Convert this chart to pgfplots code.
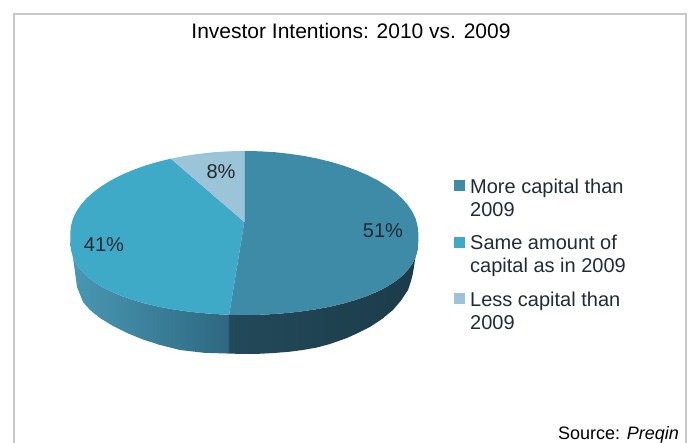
\documentclass[border=0pt]{standalone}
\usepackage{fontspec}
\setmainfont{Liberation Sans}
\usepackage{pgfplots}
\pgfplotsset{compat=1.18}
\definecolor{more}{HTML}{3E8BA8}
\definecolor{same}{HTML}{3FA9C8}
\definecolor{less}{HTML}{9CC4D8}
\definecolor{ink}{HTML}{222A33}
\definecolor{framegray}{HTML}{C8C8C8}
\definecolor{wallA}{HTML}{4A98B4}
\definecolor{wallB}{HTML}{2E6880}
\definecolor{wallC}{HTML}{234A5A}
\definecolor{wallD}{HTML}{1B3B4A}

\begin{document}
\begin{tikzpicture}
\useasboundingbox (0,0) rectangle (689pt,443pt);
\begin{axis}[
  at={(0,0)},anchor=south west,
  scale only axis,width=689pt,height=443pt,
  xmin=0,xmax=689,ymin=0,ymax=443,y dir=reverse,
  hide axis,clip=false,
  font=\fontsize{20}{23}\selectfont,
  legend image code/.code={\fill[#1] (0pt,-4.5pt) rectangle (11pt,6.5pt);\path (14pt,0pt);},
  legend cell align=left,
  legend style={
    at={(axis cs:454,176.5)},anchor=north west,draw=none,fill=none,
    text=ink,row sep=36.5pt,inner sep=0pt,
    /tikz/every even column/.style={column sep=0pt},
    font=\fontsize{20}{23}\selectfont
  }
]
% side wall, 41% slice
\addplot[forget plot,draw=none,left color=wallA,right color=wallB] coordinates {
(229.1,314.8)(214.1,314.0)(199.3,312.8)(184.8,311.1)(170.8,309.0)(157.3,306.4)(144.5,303.3)(132.5,299.8)
(121.3,295.9)(111.0,291.5)(101.8,286.8)(93.6,281.6)(86.6,276.1)(80.8,270.1)(76.2,263.8)(72.9,256.9)(71.0,249.4)(70.3,240)
(71,245)(73,258)(75,272)(77,287)(83,302)(90,310)(100,318)(113,326)(127,333)(143,339.5)(160,345)(180,350)(204,352.8)(229.4,353.6)
};
% side wall, 51% slice
\addplot[forget plot,draw=none,left color=wallC,middle color=wallD,right color=wallD] coordinates {
(418.3,240)(417.6,249.4)(415.7,256.9)(412.4,263.8)(407.8,270.1)(402.0,276.1)(395.0,281.6)(386.8,286.8)(377.6,291.5)
(367.3,295.9)(356.1,299.8)(344.1,303.3)(331.3,306.4)(317.8,309.0)(303.8,311.1)(289.3,312.8)(274.5,314.0)(259.5,314.8)(244.3,315.0)(229.1,314.8)
(229.4,353.6)(244.3,354)(259,353.8)(274,353)(289,351.8)(303,350)(317,347.5)(330,344)(347,338)(358,333)(370,327)(382,319)(393,310)(401,300.5)
(408,290)(411,281)(413,273)(415,260)(417,247)
};
% top faces
\addplot[draw=none,fill=more] coordinates {
(244.3,222)(244.3,151.0)(259.5,151.3)(274.5,152.2)(289.3,153.8)(303.8,155.9)(317.8,158.7)(331.3,162.0)(344.1,165.8)(356.1,170.2)
(367.3,175.0)(377.6,180.3)(386.8,186.0)(395.0,192.0)(402.0,198.3)(407.8,205.0)(412.4,211.8)(415.7,218.8)(417.6,225.9)(418.3,233.0)
(418.3,240)(417.6,249.4)(415.7,256.9)(412.4,263.8)(407.8,270.1)(402.0,276.1)(395.0,281.6)(386.8,286.8)(377.6,291.5)(367.3,295.9)(356.1,299.8)
(344.1,303.3)(331.3,306.4)(317.8,309.0)(303.8,311.1)(289.3,312.8)(274.5,314.0)(259.5,314.8)(244.3,315.0)(229.1,314.8)
};
\addlegendentry{\parbox[t]{170pt}{More capital than\\2009}}
\addplot[draw=none,fill=same] coordinates {
(244.3,222)(229.1,314.8)(214.1,314.0)(199.3,312.8)(184.8,311.1)(170.8,309.0)(157.3,306.4)(144.5,303.3)(132.5,299.8)
(121.3,295.9)(111.0,291.5)(101.8,286.8)(93.6,281.6)(86.6,276.1)(80.8,270.1)(76.2,263.8)(72.9,256.9)(71.0,249.4)(70.3,240)(70.3,233.0)
(71.0,225.9)(72.9,218.8)(76.2,211.8)(80.8,205.0)(86.6,198.3)(93.6,192.0)(101.8,186.0)(111.0,180.3)(121.3,175.0)
(132.5,170.2)(144.5,165.8)(157.3,162.0)(170.8,158.7)
};
\addlegendentry{\parbox[t]{170pt}{Same amount of\\capital as in 2009}}
\addplot[draw=none,fill=less] coordinates {
(244.3,222)(170.8,158.7)(184.8,155.9)(199.3,153.8)(214.1,152.2)(229.1,151.3)(244.3,151.0)
};
\addlegendentry{\parbox[t]{170pt}{Less capital than\\2009}}
% frame
\addplot[forget plot,color=framegray,line width=1.6pt] coordinates {(14,443)(14,14)(686,14)(686,443)};
\node[text=black,font=\fontsize{21}{25}\selectfont] at (axis cs:351,31) {Investor Intentions: 2010 vs. 2009};
\node[text=ink] at (axis cs:383,231) {51\%};
\node[text=ink] at (axis cs:104,245) {41\%};
\node[text=ink] at (axis cs:221,172) {8\%};
\node[text=black,anchor=base east,inner sep=0pt,font=\fontsize{18}{21}\selectfont] at (axis cs:679,440) {Source: \textit{Preqin}};
\end{axis}
\end{tikzpicture}
\end{document}
